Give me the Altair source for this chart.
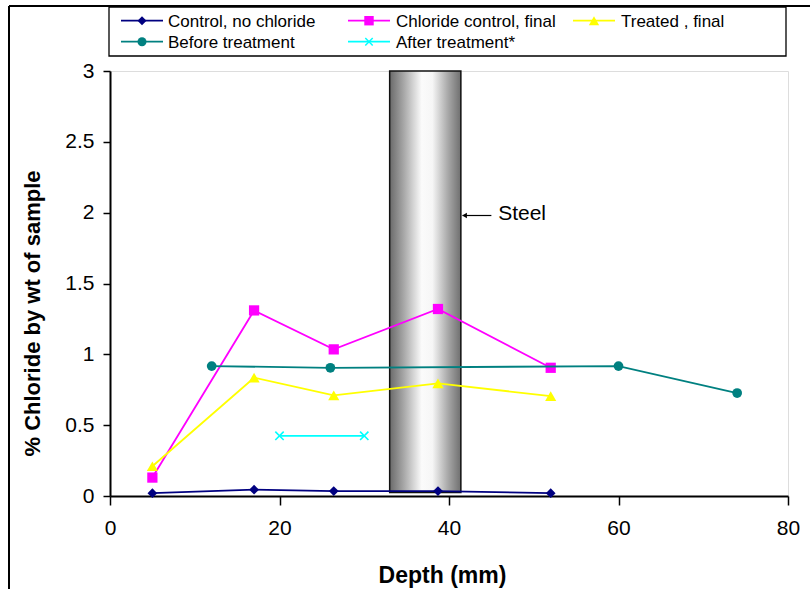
import altair as alt
import pandas as pd

# Chloride profiles against depth from the concrete surface
depth = [5, 17, 26.4, 38.7, 52]
control_no_chloride = [0.02, 0.045, 0.035, 0.035, 0.02]
chloride_control_final = [0.13, 1.31, 1.035, 1.32, 0.905]
treated_final = [0.21, 0.835, 0.71, 0.795, 0.705]
before_depth = [12, 26, 60, 74]
before_treatment = [0.917, 0.905, 0.917, 0.727]
after_depth = [20, 30]
after_treatment = [0.425, 0.425]

series_names = [
    "Control, no chloride",
    "Chloride control, final",
    "Treated , final",
    "Before treatment",
    "After treatment*",
]
series_colors = ["#000080", "#FF00FF", "#FFFF00", "#008080", "#00FFFF"]
X_PATH = "M-1,-1L1,1M-1,1L1,-1"
series_shapes = ["diamond", "square", "triangle-up", "circle", X_PATH]
series_sizes = [95, 105, 125, 95, 70]
series_data = [
    (depth, control_no_chloride),
    (depth, chloride_control_final),
    (depth, treated_final),
    (before_depth, before_treatment),
    (after_depth, after_treatment),
]

# Position of the steel bar (depth range, chloride range)
steel_x = [33.0, 41.4]
steel_y = [0.025, 3.0]
steel_label = "Steel"
steel_label_pos = [45.8, 1.99]
steel_arrow = [45.0, 41.6]

FONT = "Liberation Sans"
W, H = 678, 425
PAD_L, PAD_T = 110, 71

x_scale = alt.Scale(domain=[0, 80], nice=False)
y_scale = alt.Scale(domain=[0, 3], nice=False)

x_axis = alt.Axis(
    values=[0, 20, 40, 60, 80], title="Depth (mm)", grid=False,
    tickSize=9, tickWidth=1.5, tickColor="black",
    domainColor="black", domainWidth=2, labelFlush=False,
    labelFontSize=21, labelColor="black", labelPadding=12, labelFont=FONT,
    titleFontSize=23, titleFontWeight="bold", titleColor="black", titleFont=FONT,
    titleX=332, titleY=86, titleBaseline="alphabetic", titleAlign="center",
)
y_axis = alt.Axis(
    values=[0, 0.5, 1, 1.5, 2, 2.5, 3], format="~g",
    title="% Chloride by wt of sample", grid=False,
    tickSize=7, tickWidth=1.5, tickColor="black",
    domainColor="black", domainWidth=2, labelFlush=False,
    labelFontSize=21, labelColor="black", labelPadding=9, labelFont=FONT,
    titleFontSize=22, titleFontWeight="bold", titleColor="black", titleFont=FONT,
    titleX=-71, titleY=242, titleBaseline="alphabetic", titleAlign="center",
    titleAngle=270,
)

# Steel bar with a cylindrical grey shading
steel_df = pd.DataFrame({"x": [steel_x[0]], "x2": [steel_x[1]],
                         "y": [steel_y[0]], "y2": [steel_y[1]]})
steel_fill = alt.Gradient(
    gradient="linear", x1=0, x2=1, y1=0, y2=0,
    stops=[
        alt.GradientStop(color="#6a6a6a", offset=0),
        alt.GradientStop(color="#a8a8a8", offset=0.2),
        alt.GradientStop(color="#fbfbfb", offset=0.45),
        alt.GradientStop(color="#f6f6f6", offset=0.6),
        alt.GradientStop(color="#a8a8a8", offset=0.82),
        alt.GradientStop(color="#6f6f6f", offset=1),
    ],
)
steel = alt.Chart(steel_df).mark_rect(
    fill=steel_fill, stroke="#111111", strokeWidth=1.5
).encode(
    x=alt.X("x:Q", scale=x_scale, axis=x_axis),
    x2="x2:Q",
    y=alt.Y("y:Q", scale=y_scale, axis=y_axis),
    y2="y2:Q",
)

layers = [steel]

for name, color, shape, size, (xs, ys) in zip(
    series_names, series_colors, series_shapes, series_sizes, series_data
):
    df = pd.DataFrame({"depth": xs, "chloride": ys, "series": name})
    base = alt.Chart(df).encode(
        x=alt.X("depth:Q", scale=x_scale),
        y=alt.Y("chloride:Q", scale=y_scale),
    )
    layers.append(base.mark_line(color=color, strokeWidth=1.8))
    if shape == X_PATH:
        pts = base.mark_point(shape=shape, size=size, filled=False,
                              stroke=color, strokeWidth=1.6, opacity=1)
    else:
        pts = base.mark_point(shape=shape, size=size, filled=True,
                              color=color, opacity=1)
    layers.append(pts)

# "Steel" annotation with arrow pointing at the bar
ann_df = pd.DataFrame({"x": [steel_label_pos[0]], "y": [steel_label_pos[1]],
                       "ax": [steel_arrow[0]], "ax2": [steel_arrow[1]],
                       "ay": [steel_label_pos[1] - 0.01], "label": [steel_label]})
ann = alt.Chart(ann_df)
layers.append(ann.mark_text(align="left", baseline="middle", fontSize=21,
                            font=FONT, color="black").encode(
    x=alt.X("x:Q", scale=x_scale), y=alt.Y("y:Q", scale=y_scale), text="label:N"))
layers.append(ann.mark_rule(color="black", strokeWidth=1.2).encode(
    x=alt.X("ax:Q", scale=x_scale), x2="ax2:Q", y=alt.Y("ay:Q", scale=y_scale)))
layers.append(ann.mark_point(shape="triangle-left", size=28, filled=True,
                             color="black", opacity=1, xOffset=2).encode(
    x=alt.X("ax2:Q", scale=x_scale), y=alt.Y("ay:Q", scale=y_scale)))

# Legend and chart frame, placed in pixels relative to the plot area
one = pd.DataFrame({"k": [0]})

def px(v):
    return v - PAD_L

def py(v):
    return v - PAD_T

layers.append(alt.Chart(one).mark_rect(fill="white", stroke="black", strokeWidth=1.3).encode(
    x=alt.value(px(109)), x2=alt.value(px(786)),
    y=alt.value(py(7)), y2=alt.value(py(56))))

legend_rows = [20.7, 20.7, 20.7, 41.7, 41.7]
legend_line = [(121, 163), (348, 390), (573, 615), (121, 163), (348, 390)]
legend_text_x = [168, 396, 621, 168, 396]
for i, name in enumerate(series_names):
    ly = py(legend_rows[i])
    l0, l1 = legend_line[i]
    layers.append(alt.Chart(one).mark_rule(color=series_colors[i], strokeWidth=1.8).encode(
        x=alt.value(px(l0)), x2=alt.value(px(l1)), y=alt.value(ly)))
    if series_shapes[i] == X_PATH:
        mk = alt.Chart(one).mark_point(shape=X_PATH, size=55, filled=False,
                                       stroke=series_colors[i], strokeWidth=1.5, opacity=1)
    else:
        mk = alt.Chart(one).mark_point(shape=series_shapes[i], size=series_sizes[i] * 0.85,
                                       filled=True, color=series_colors[i], opacity=1)
    layers.append(mk.encode(x=alt.value(px((l0 + l1) / 2)), y=alt.value(ly)))
    layers.append(alt.Chart(one).mark_text(
        text=name, align="left", baseline="middle", fontSize=17, font=FONT, color="black"
    ).encode(x=alt.value(px(legend_text_x[i])), y=alt.value(ly + 1)))

# Outer chart-area border (top and left edges)
layers.append(alt.Chart(one).mark_rule(color="black", strokeWidth=2).encode(
    x=alt.value(px(9)), x2=alt.value(px(812)), y=alt.value(py(6))))
layers.append(alt.Chart(one).mark_rule(color="black", strokeWidth=2).encode(
    x=alt.value(px(9)), y=alt.value(py(6)), y2=alt.value(py(592))))

chart = alt.layer(*layers).properties(
    width=W, height=H,
    autosize=alt.AutoSizeParams(type="none"),
    padding={"left": PAD_L, "top": PAD_T, "right": 810 - PAD_L - W, "bottom": 589 - PAD_T - H},
    background="white",
).configure_view(
    stroke="#333333", strokeWidth=1.5
).configure(font=FONT)

chart.save("out.html", embed_options={"renderer": "svg", "actions": False})
